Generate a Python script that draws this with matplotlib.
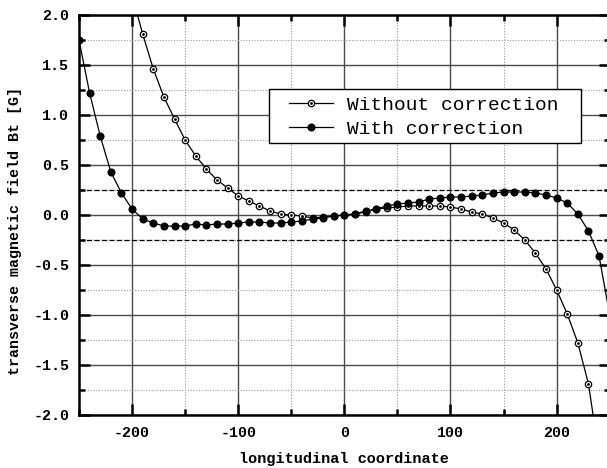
import numpy as np
import matplotlib
matplotlib.use('Agg')
import matplotlib.pyplot as plt
from matplotlib.legend_handler import HandlerTuple
from matplotlib.patches import Rectangle
from matplotlib.ticker import MultipleLocator

# longitudinal positions of the measurement points
x_pos = list(range(-250, 260, 10))

# field with correction (one value per position)
bt_corr = [1.75, 1.22, 0.79, 0.43, 0.22, 0.06, -0.04, -0.08, -0.11, -0.11,
           -0.11, -0.09, -0.10, -0.09, -0.09, -0.08, -0.07, -0.07, -0.08, -0.08,
           -0.07, -0.06, -0.04, -0.03, -0.01, 0.00, 0.01, 0.04, 0.06, 0.09,
           0.11, 0.12, 0.13, 0.16, 0.17, 0.18, 0.18, 0.19, 0.20, 0.22,
           0.23, 0.23, 0.23, 0.22, 0.20, 0.17, 0.12, 0.01, -0.16, -0.41,
           -1.00]

# field without correction, starts at -200
x_nocorr = list(range(-200, 250, 10))
bt_nocorr = [2.20, 1.81, 1.46, 1.18, 0.96, 0.75, 0.59, 0.46, 0.35, 0.27,
             0.19, 0.14, 0.09, 0.04, 0.01, 0.00, -0.01, -0.03, -0.02, -0.01,
             0.00, 0.01, 0.03, 0.06, 0.07, 0.08, 0.09, 0.09, 0.09, 0.09,
             0.08, 0.06, 0.03, 0.01, -0.03, -0.08, -0.15, -0.25, -0.38, -0.54,
             -0.75, -0.99, -1.28, -1.69, -2.40]

tolerance = 0.25
labels = ['Without correction', 'With correction']
xticks = [-200, -100, 0, 100, 200]
yticks = [-2.0, -1.5, -1.0, -0.5, 0.0, 0.5, 1.0, 1.5, 2.0]

mono = 'Liberation Mono'

fig = plt.figure(figsize=(6.07, 4.68), dpi=100)
W, H = 607.0, 468.0
AW = 530.7
ax = fig.add_axes([79 / W, (H - 415) / H, AW / W, 400 / H])

ax.set_xlim(-250, 250)
ax.set_ylim(-2.0, 2.0)

ax.xaxis.set_minor_locator(MultipleLocator(50))
ax.yaxis.set_minor_locator(MultipleLocator(0.25))

ax.grid(which='major', color='#4a4a4a', linewidth=1.0, linestyle='-')
ax.grid(which='minor', color='#999999', linewidth=0.8, linestyle=(0, (1, 1.5)))
ax.set_axisbelow(True)

ax.axhline(tolerance, color='black', linewidth=0.9, linestyle=(0, (4, 2)), zorder=1.5)
ax.axhline(-tolerance, color='black', linewidth=0.9, linestyle=(0, (4, 2)), zorder=1.5)

l1, = ax.plot(x_nocorr, bt_nocorr, color='black', linewidth=0.9, marker='o',
              markersize=4.6, markerfacecolor='white', markeredgecolor='black',
              markeredgewidth=0.9, zorder=3)
d1, = ax.plot(x_nocorr, bt_nocorr, linestyle='none', marker='o', markersize=1.0,
              color='black', zorder=4)
l2, = ax.plot(x_pos, bt_corr, color='black', linewidth=0.9, marker='o',
              markersize=4.8, markerfacecolor='black', markeredgecolor='black', zorder=3)

for sp in ax.spines.values():
    sp.set_linewidth(1.8)

ax.tick_params(which='both', direction='in', top=True, right=True, width=1.8)
ax.tick_params(which='major', length=8)
ax.tick_params(which='minor', length=4)
ax.tick_params(axis='x', pad=8)
ax.tick_params(axis='y', pad=7)

ax.set_yticks(yticks)
ax.set_yticklabels(['%.1f' % v if v >= 0 else '-%.1f' % -v for v in yticks],
                   fontfamily=mono, fontweight='bold', fontsize=10.8)
ax.set_xticks(xticks)
ax.set_xticklabels([str(v) for v in xticks],
                   fontfamily=mono, fontweight='bold', fontsize=10.8)

fig.text(344 / W, 1 - 459 / H, 'longitudinal coordinate', ha='center', va='center',
         fontfamily=mono, fontweight='bold', fontsize=11)
fig.text(15 / W, 1 - 231 / H, 'transverse magnetic field Bt [G]', ha='center', va='center',
         rotation=90, fontfamily=mono, fontweight='bold', fontsize=10.8)

# legend frame drawn separately, legend itself without frame
box = Rectangle((269 / W, 1 - 143 / H), (581 - 269) / W, 54 / H, transform=fig.transFigure,
                facecolor='white', edgecolor='black', linewidth=1.0, zorder=5)
fig.patches.append(box)

leg = fig.legend([(l1, d1), l2], labels, handler_map={tuple: HandlerTuple(ndivide=1)},
                 loc='upper left', bbox_to_anchor=(289 / W, 1 - 96.5 / H),
                 borderaxespad=0, borderpad=0, numpoints=1, handlelength=2.27,
                 handletextpad=0.7, labelspacing=0.3, frameon=False,
                 prop={'family': mono, 'size': 14})
leg.set_zorder(6)

fig.savefig('out.png', dpi=100)
